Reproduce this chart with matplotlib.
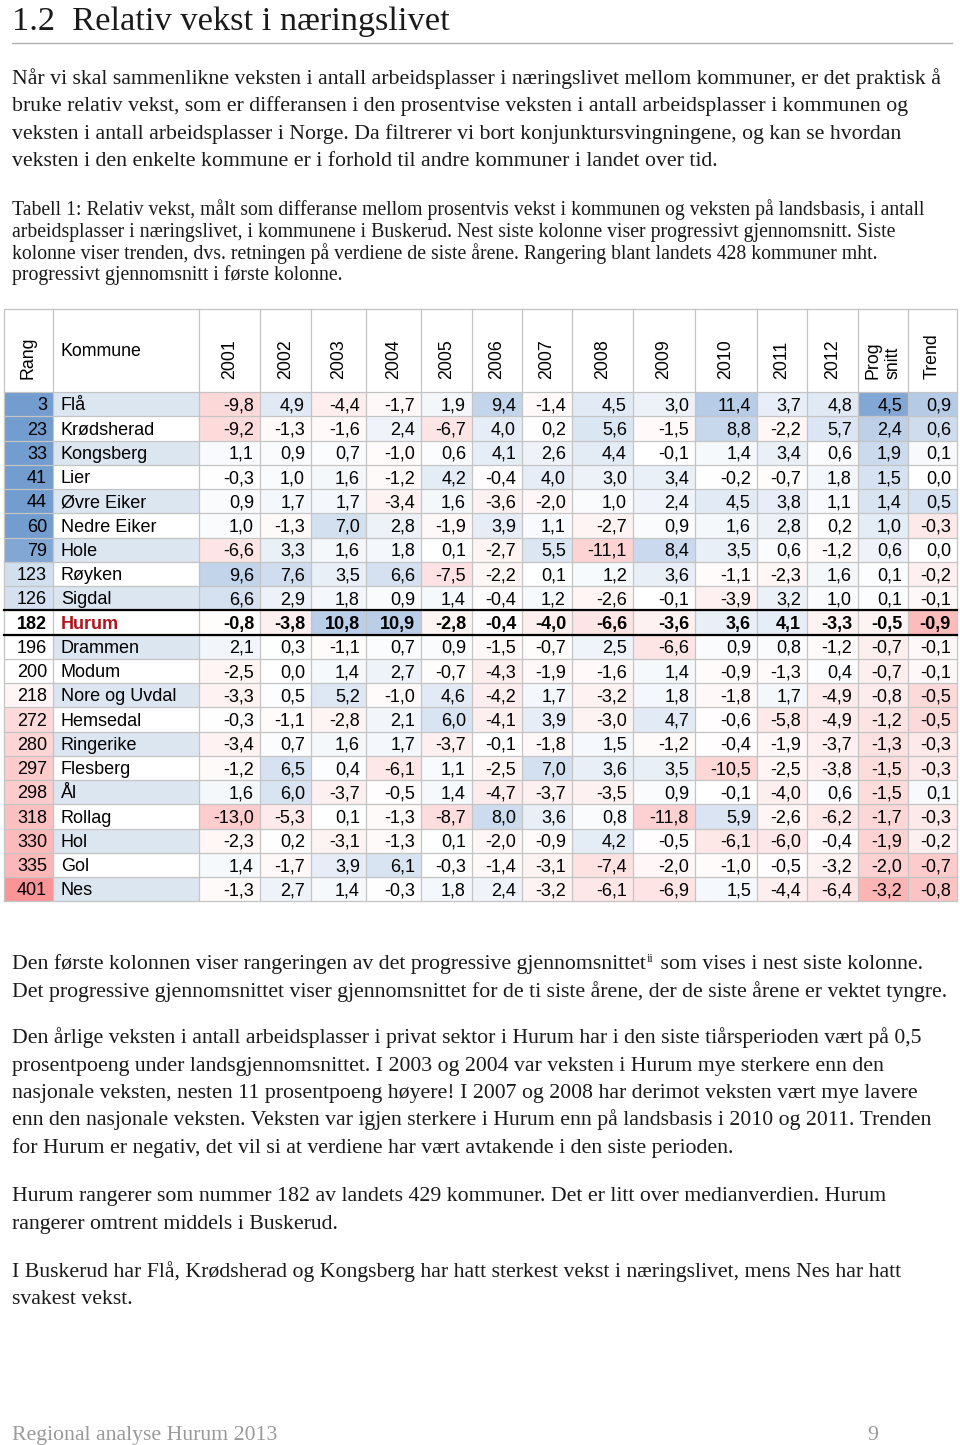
import matplotlib
matplotlib.use("Agg")
import matplotlib.pyplot as plt
import numpy as np

# --- Données (tabell 1)
rang = [3, 23, 33, 41, 44, 60, 79, 123, 126, 182, 196, 200, 218, 272, 280, 297, 298, 318, 330, 335, 401]
kommune = ["Flå", "Krødsherad", "Kongsberg", "Lier", "Øvre Eiker", "Nedre Eiker", "Hole", "Røyken",
           "Sigdal", "Hurum", "Drammen", "Modum", "Nore og Uvdal", "Hemsedal", "Ringerike", "Flesberg",
           "Ål", "Rollag", "Hol", "Gol", "Nes"]
years = ["2001", "2002", "2003", "2004", "2005", "2006", "2007", "2008", "2009", "2010", "2011", "2012"]

v2001 = [-9.8, -9.2, 1.1, -0.3, 0.9, 1.0, -6.6, 9.6, 6.6, -0.8, 2.1, -2.5, -3.3, -0.3, -3.4, -1.2, 1.6, -13.0, -2.3, 1.4, -1.3]
v2002 = [4.9, -1.3, 0.9, 1.0, 1.7, -1.3, 3.3, 7.6, 2.9, -3.8, 0.3, 0.0, 0.5, -1.1, 0.7, 6.5, 6.0, -5.3, 0.2, -1.7, 2.7]
v2003 = [-4.4, -1.6, 0.7, 1.6, 1.7, 7.0, 1.6, 3.5, 1.8, 10.8, -1.1, 1.4, 5.2, -2.8, 1.6, 0.4, -3.7, 0.1, -3.1, 3.9, 1.4]
v2004 = [-1.7, 2.4, -1.0, -1.2, -3.4, 2.8, 1.8, 6.6, 0.9, 10.9, 0.7, 2.7, -1.0, 2.1, 1.7, -6.1, -0.5, -1.3, -1.3, 6.1, -0.3]
v2005 = [1.9, -6.7, 0.6, 4.2, 1.6, -1.9, 0.1, -7.5, 1.4, -2.8, 0.9, -0.7, 4.6, 6.0, -3.7, 1.1, 1.4, -8.7, 0.1, -0.3, 1.8]
v2006 = [9.4, 4.0, 4.1, -0.4, -3.6, 3.9, -2.7, -2.2, -0.4, -0.4, -1.5, -4.3, -4.2, -4.1, -0.1, -2.5, -4.7, 8.0, -2.0, -1.4, 2.4]
v2007 = [-1.4, 0.2, 2.6, 4.0, -2.0, 1.1, 5.5, 0.1, 1.2, -4.0, -0.7, -1.9, 1.7, 3.9, -1.8, 7.0, -3.7, 3.6, -0.9, -3.1, -3.2]
v2008 = [4.5, 5.6, 4.4, 3.0, 1.0, -2.7, -11.1, 1.2, -2.6, -6.6, 2.5, -1.6, -3.2, -3.0, 1.5, 3.6, -3.5, 0.8, 4.2, -7.4, -6.1]
v2009 = [3.0, -1.5, -0.1, 3.4, 2.4, 0.9, 8.4, 3.6, -0.1, -3.6, -6.6, 1.4, 1.8, 4.7, -1.2, 3.5, 0.9, -11.8, -0.5, -2.0, -6.9]
v2010 = [11.4, 8.8, 1.4, -0.2, 4.5, 1.6, 3.5, -1.1, -3.9, 3.6, 0.9, -0.9, -1.8, -0.6, -0.4, -10.5, -0.1, 5.9, -6.1, -1.0, 1.5]
v2011 = [3.7, -2.2, 3.4, -0.7, 3.8, 2.8, 0.6, -2.3, 3.2, 4.1, 0.8, -1.3, 1.7, -5.8, -1.9, -2.5, -4.0, -2.6, -6.0, -0.5, -4.4]
v2012 = [4.8, 5.7, 0.6, 1.8, 1.1, 0.2, -1.2, 1.6, 1.0, -3.3, -1.2, 0.4, -4.9, -4.9, -3.7, -3.8, 0.6, -6.2, -0.4, -3.2, -6.4]
prog_snitt = [4.5, 2.4, 1.9, 1.5, 1.4, 1.0, 0.6, 0.1, 0.1, -0.5, -0.7, -0.7, -0.8, -1.2, -1.3, -1.5, -1.5, -1.7, -1.9, -2.0, -3.2]
trend = [0.9, 0.6, 0.1, 0.0, 0.5, -0.3, 0.0, -0.2, -0.1, -0.9, -0.1, -0.1, -0.5, -0.5, -0.3, -0.3, 0.1, -0.3, -0.2, -0.7, -0.8]

year_cols = [v2001, v2002, v2003, v2004, v2005, v2006, v2007, v2008, v2009, v2010, v2011, v2012]
highlight = "Hurum"

# --- Mise en page (pixels)
W, H = 960, 1445
SERIF = ["Liberation Serif", "DejaVu Serif"]
SANS = ["Liberation Sans", "DejaVu Sans"]
TXT = "#1a1a1a"

fig = plt.figure(figsize=(W / 100, H / 100), dpi=100)
fig.patch.set_facecolor("white")
ax = fig.add_axes([0, 0, 1, 1])
ax.set_xlim(0, W)
ax.set_ylim(H, 0)
ax.axis("off")
renderer = fig.canvas.get_renderer()


def text_width(s, size, family, **kw):
    t = ax.text(0, 0, s, fontsize=size, family=family, **kw)
    w = t.get_window_extent(renderer).width
    t.remove()
    return w


def fit_size(s, target, family, base=14.0):
    return base * target / text_width(s, base, family)


# Titre
title = "1.2  Relativ vekst i næringslivet"
ax.text(12, 30, title, fontsize=fit_size(title, 436, SERIF, 22), family=SERIF, color=TXT, va="baseline")
ax.plot([12, 952], [43, 43], color="#b0b0b0", lw=1.0)

para1 = [
    "Når vi skal sammenlikne veksten i antall arbeidsplasser i næringslivet mellom kommuner, er det praktisk å",
    "bruke relativ vekst, som er differansen i den prosentvise veksten i antall arbeidsplasser i kommunen og",
    "veksten i antall arbeidsplasser i Norge. Da filtrerer vi bort konjunktursvingningene, og kan se hvordan",
    "veksten i den enkelte kommune er i forhold til andre kommuner i landet over tid.",
]
body = fit_size(para1[0], 936, SERIF)


def draw_lines(lines, y0, step, size, color=TXT):
    for i, line in enumerate(lines):
        ax.text(12, y0 + i * step, line, fontsize=size, family=SERIF, color=color, va="baseline")


draw_lines(para1, 84, 27.5, body)

caption = [
    "Tabell 1: Relativ vekst, målt som differanse mellom prosentvis vekst i kommunen og veksten på landsbasis, i antall",
    "arbeidsplasser i næringslivet, i kommunene i Buskerud. Nest siste kolonne viser progressivt gjennomsnitt. Siste",
    "kolonne viser trenden, dvs. retningen på verdiene de siste årene. Rangering blant landets 428 kommuner mht.",
    "progressivt gjennomsnitt i første kolonne.",
]
cap_size = fit_size(caption[0], 908, SERIF, 12)
draw_lines(caption, 215.5, 21.5, cap_size)

# --- Tableau
col_edges = [4, 53, 199, 260, 311, 366, 421, 472, 522, 572, 633, 695, 757, 807, 858, 908, 957]
head_top, head_bot = 309, 392
row_h = 24.25
n = len(rang)
grid = "#c4c4c4"
BLUE = np.array([90, 138, 198]) / 255
RED = np.array([248, 105, 107]) / 255


def scale_color(v, vpos, vneg):
    if v > 0:
        t = min(v / vpos, 1.0)
        return tuple(1 - t * (1 - BLUE))
    t = min(-v / vneg, 1.0)
    return tuple(1 - t * (1 - RED))


def rank_color(r):
    # bleu pour les meilleurs rangs, rouge pour les derniers, blanc au milieu
    if r < 182:
        t = min((182 - r) / 110, 1.0) ** 1.8 * 0.85
        return tuple(1 - t * (1 - BLUE))
    t = max(r - 200, 0) / 240 * 0.85
    return tuple(1 - t * (1 - RED))


fs = 13
value_cols = year_cols + [prog_snitt, trend]
vpos = [26] * len(year_cols) + [6.0, 2.0]
vneg = [38] * len(year_cols) + [6.4, 2.0]

for i in range(n):
    top = head_bot + i * row_h
    base_y = top + 18.3
    bold = kommune[i] == highlight
    weight = "bold" if bold else "normal"
    # Rang
    ax.add_patch(plt.Rectangle((col_edges[0], top), col_edges[1] - col_edges[0], row_h,
                               facecolor=rank_color(rang[i]), edgecolor="none"))
    ax.text(col_edges[1] - 6, base_y, str(rang[i]), fontsize=fs, family=SANS, ha="right",
            va="baseline", weight=weight, color="black")
    # Kommune
    kfill = "#dce6f1" if i % 2 == 0 else "white"
    ax.add_patch(plt.Rectangle((col_edges[1], top), col_edges[2] - col_edges[1], row_h,
                               facecolor=kfill, edgecolor="none"))
    ax.text(col_edges[1] + 8, base_y, kommune[i], fontsize=fs, family=SANS, ha="left",
            va="baseline", weight=weight, color="#b0141c" if bold else "black")
    # Valeurs
    for j, col in enumerate(value_cols):
        v = col[i]
        x0, x1 = col_edges[j + 2], col_edges[j + 3]
        ax.add_patch(plt.Rectangle((x0, top), x1 - x0, row_h,
                                   facecolor=scale_color(v, vpos[j], vneg[j]), edgecolor="none"))
        ax.text(x1 - 6, base_y, f"{v:.1f}".replace(".", ","), fontsize=fs, family=SANS,
                ha="right", va="baseline", weight=weight, color="black")

tab_bot = head_bot + n * row_h
# Grille
for x in col_edges:
    ax.plot([x, x], [head_top, tab_bot], color=grid, lw=0.9, zorder=3)
for i in range(n + 1):
    y = head_bot + i * row_h
    ax.plot([col_edges[0], col_edges[-1]], [y, y], color=grid, lw=0.9, zorder=3)
ax.plot([col_edges[0], col_edges[-1]], [head_top, head_top], color=grid, lw=0.9, zorder=3)

hi = kommune.index(highlight)
for y in (head_bot + hi * row_h, head_bot + (hi + 1) * row_h):
    ax.plot([col_edges[0], col_edges[-1]], [y, y], color="black", lw=1.6, zorder=4)

# En-têtes
hs = 12.8
ax.text((col_edges[0] + col_edges[1]) / 2, 379, "Rang", rotation=90, fontsize=hs, family=SANS,
        ha="center", va="bottom")
ax.text(col_edges[1] + 8, 351, "Kommune", fontsize=hs, family=SANS, ha="left", va="center")
headers = years + ["Prog\nsnitt", "Trend"]
for j, h in enumerate(headers):
    xc = (col_edges[j + 2] + col_edges[j + 3]) / 2
    ax.text(xc, 379, h, rotation=90, fontsize=hs, family=SANS, ha="center", va="bottom",
            multialignment="left", linespacing=1.3)

# --- Texte sous le tableau
line_a = "Den første kolonnen viser rangeringen av det progressive gjennomsnittet"
ax.text(12, 969, line_a, fontsize=body, family=SERIF, color=TXT, va="baseline")
wa = text_width(line_a, body, SERIF)
ax.text(12 + wa + 1, 962, "ii", fontsize=body * 0.55, family=SERIF, color=TXT, va="baseline")
wi = text_width("ii", body * 0.55, SERIF)
ax.text(12 + wa + wi + 2, 969, " som vises i nest siste kolonne.", fontsize=body, family=SERIF,
        color=TXT, va="baseline")
draw_lines(["Det progressive gjennomsnittet viser gjennomsnittet for de ti siste årene, der de siste årene er vektet tyngre."],
           996.5, 27.5, body)

para3 = [
    "Den årlige veksten i antall arbeidsplasser i privat sektor i Hurum har i den siste tiårsperioden vært på 0,5",
    "prosentpoeng under landsgjennomsnittet. I 2003 og 2004 var veksten i Hurum mye sterkere enn den",
    "nasjonale veksten, nesten 11 prosentpoeng høyere! I 2007 og 2008 har derimot veksten vært mye lavere",
    "enn den nasjonale veksten. Veksten var igjen sterkere i Hurum enn på landsbasis i 2010 og 2011. Trenden",
    "for Hurum er negativ, det vil si at verdiene har vært avtakende i den siste perioden.",
]
draw_lines(para3, 1043, 27.5, body)

para4 = [
    "Hurum rangerer som nummer 182 av landets 429 kommuner. Det er litt over medianverdien. Hurum",
    "rangerer omtrent middels i Buskerud.",
]
draw_lines(para4, 1201, 27.5, body)

para5 = [
    "I Buskerud har Flå, Krødsherad og Kongsberg har hatt sterkest vekst i næringslivet, mens Nes har hatt",
    "svakest vekst.",
]
draw_lines(para5, 1277, 27.5, body)

# Pied de page
ax.text(12, 1440, "Regional analyse Hurum 2013", fontsize=body, family=SERIF, color="#9a9a9a", va="baseline")
ax.text(878, 1440, "9", fontsize=body, family=SERIF, color="#9a9a9a", va="baseline", ha="right")

fig.savefig("out.png", dpi=100, facecolor="white")
plt.close(fig)
